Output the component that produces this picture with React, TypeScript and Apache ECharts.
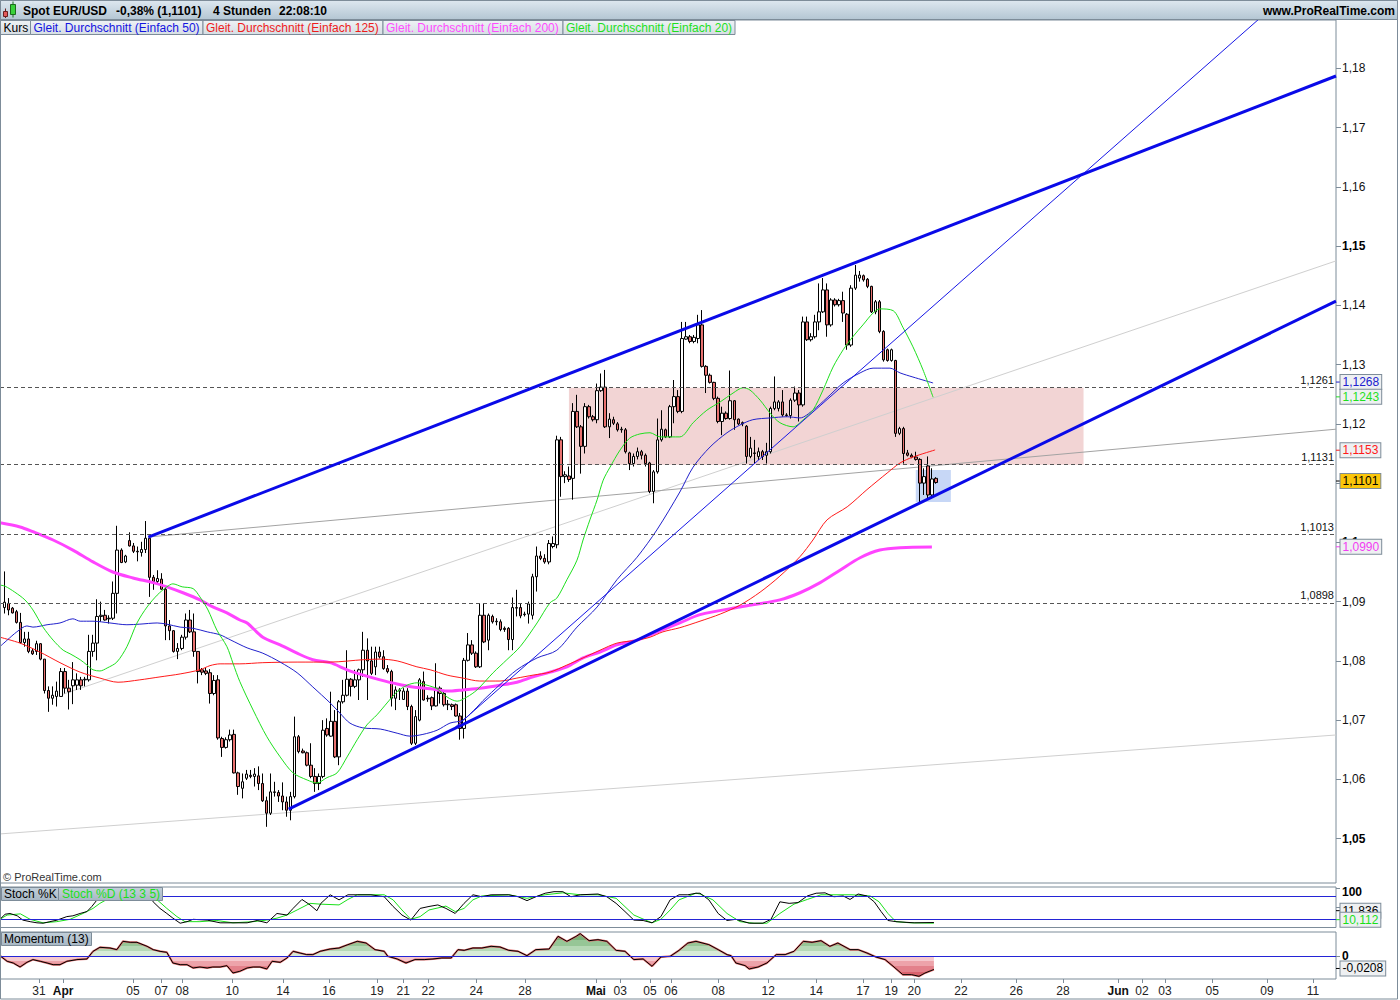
import React, { useEffect, useRef } from 'react';
import * as echarts from 'echarts';

const FONT = '"Liberation Sans", Arial, Helvetica, sans-serif';

// 4-hour candles EUR/USD: [open, close, low, high]
const candles: number[][] = [
  [1.0890, 1.0899, 1.0880, 1.0951], [1.0897, 1.0886, 1.0877, 1.0906], [1.0889, 1.0881, 1.0880, 1.0891],
  [1.0883, 1.0865, 1.0863, 1.0886], [1.0865, 1.0831, 1.0829, 1.0881], [1.0831, 1.0837, 1.0824, 1.0849],
  [1.0837, 1.0816, 1.0813, 1.0849], [1.0817, 1.0812, 1.0810, 1.0821], [1.0816, 1.0829, 1.0810, 1.0834],
  [1.0829, 1.0803, 1.0801, 1.0830], [1.0803, 1.0750, 1.0745, 1.0803], [1.0750, 1.0737, 1.0714, 1.0757],
  [1.0737, 1.0742, 1.0726, 1.0757], [1.0740, 1.0749, 1.0723, 1.0765], [1.0740, 1.0782, 1.0740, 1.0788],
  [1.0782, 1.0754, 1.0745, 1.0788], [1.0754, 1.0748, 1.0718, 1.0768], [1.0758, 1.0768, 1.0727, 1.0798],
  [1.0759, 1.0768, 1.0751, 1.0779], [1.0768, 1.0758, 1.0751, 1.0773], [1.0768, 1.0769, 1.0757, 1.0773],
  [1.0768, 1.0816, 1.0765, 1.0844], [1.0816, 1.0830, 1.0807, 1.0844], [1.0830, 1.0875, 1.0801, 1.0904],
  [1.0875, 1.0877, 1.0866, 1.0900], [1.0877, 1.0869, 1.0868, 1.0886], [1.0871, 1.0872, 1.0863, 1.0877],
  [1.0872, 1.0914, 1.0869, 1.0934], [1.0914, 1.0987, 1.0880, 1.1028], [1.0987, 1.0966, 1.0965, 1.0990],
  [1.0967, 1.0977, 1.0965, 1.0979], [1.1003, 1.0994, 1.0993, 1.1017], [1.0994, 1.0985, 1.0982, 1.0999],
  [1.0985, 1.0984, 1.0968, 1.0993], [1.0983, 1.0988, 1.0976, 1.1001], [1.0988, 1.1007, 1.0982, 1.1036],
  [1.1007, 1.0941, 1.0908, 1.1010], [1.0941, 1.0934, 1.0920, 1.0945], [1.0934, 1.0939, 1.0931, 1.0953],
  [1.0938, 1.0921, 1.0920, 1.0948], [1.0921, 1.0859, 1.0835, 1.0924], [1.0859, 1.0851, 1.0835, 1.0869],
  [1.0851, 1.0816, 1.0814, 1.0852], [1.0816, 1.0821, 1.0803, 1.0830], [1.0821, 1.0840, 1.0818, 1.0844],
  [1.0840, 1.0869, 1.0836, 1.0880], [1.0869, 1.0849, 1.0847, 1.0886], [1.0849, 1.0816, 1.0807, 1.0880],
  [1.0816, 1.0782, 1.0762, 1.0816], [1.0785, 1.0781, 1.0776, 1.0788], [1.0783, 1.0779, 1.0776, 1.0788],
  [1.0780, 1.0745, 1.0728, 1.0786], [1.0745, 1.0767, 1.0742, 1.0776], [1.0768, 1.0670, 1.0667, 1.0776],
  [1.0669, 1.0654, 1.0638, 1.0672], [1.0654, 1.0667, 1.0652, 1.0671], [1.0667, 1.0675, 1.0664, 1.0684],
  [1.0676, 1.0611, 1.0610, 1.0684], [1.0611, 1.0588, 1.0574, 1.0613], [1.0585, 1.0596, 1.0568, 1.0610],
  [1.0602, 1.0609, 1.0599, 1.0616], [1.0607, 1.0605, 1.0602, 1.0616], [1.0605, 1.0609, 1.0588, 1.0619],
  [1.0606, 1.0593, 1.0582, 1.0622], [1.0593, 1.0564, 1.0562, 1.0610], [1.0564, 1.0543, 1.0520, 1.0571],
  [1.0543, 1.0579, 1.0540, 1.0610], [1.0578, 1.0579, 1.0571, 1.0596], [1.0578, 1.0572, 1.0562, 1.0582],
  [1.0572, 1.0562, 1.0548, 1.0595], [1.0562, 1.0548, 1.0537, 1.0571], [1.0548, 1.0571, 1.0531, 1.0579],
  [1.0571, 1.0672, 1.0568, 1.0706], [1.0672, 1.0647, 1.0644, 1.0675], [1.0648, 1.0645, 1.0644, 1.0652],
  [1.0645, 1.0624, 1.0622, 1.0647], [1.0624, 1.0605, 1.0602, 1.0661], [1.0605, 1.0593, 1.0579, 1.0619],
  [1.0593, 1.0605, 1.0582, 1.0610], [1.0605, 1.0683, 1.0602, 1.0700], [1.0686, 1.0675, 1.0672, 1.0703],
  [1.0673, 1.0698, 1.0672, 1.0748], [1.0698, 1.0638, 1.0636, 1.0717], [1.0638, 1.0731, 1.0624, 1.0734],
  [1.0731, 1.0742, 1.0728, 1.0768], [1.0742, 1.0769, 1.0740, 1.0818], [1.0769, 1.0757, 1.0740, 1.0771],
  [1.0757, 1.0768, 1.0754, 1.0785], [1.0768, 1.0785, 1.0734, 1.0787], [1.0785, 1.0818, 1.0773, 1.0849],
  [1.0818, 1.0800, 1.0734, 1.0838], [1.0800, 1.0779, 1.0776, 1.0824], [1.0790, 1.0815, 1.0776, 1.0824],
  [1.0815, 1.0807, 1.0804, 1.0824], [1.0807, 1.0787, 1.0785, 1.0818], [1.0787, 1.0782, 1.0779, 1.0793],
  [1.0782, 1.0737, 1.0723, 1.0785], [1.0737, 1.0751, 1.0717, 1.0757], [1.0749, 1.0751, 1.0734, 1.0754],
  [1.0735, 1.0749, 1.0734, 1.0754], [1.0749, 1.0723, 1.0717, 1.0754], [1.0723, 1.0661, 1.0658, 1.0726],
  [1.0661, 1.0706, 1.0658, 1.0717], [1.0700, 1.0768, 1.0698, 1.0771], [1.0765, 1.0734, 1.0733, 1.0782],
  [1.0737, 1.0736, 1.0731, 1.0742], [1.0738, 1.0724, 1.0717, 1.0740], [1.0724, 1.0754, 1.0723, 1.0796],
  [1.0754, 1.0745, 1.0728, 1.0757], [1.0745, 1.0726, 1.0723, 1.0751], [1.0726, 1.0727, 1.0717, 1.0734],
  [1.0726, 1.0723, 1.0717, 1.0728], [1.0726, 1.0707, 1.0706, 1.0728], [1.0707, 1.0686, 1.0667, 1.0712],
  [1.0686, 1.0801, 1.0669, 1.0805], [1.0801, 1.0827, 1.0799, 1.0847], [1.0827, 1.0813, 1.0810, 1.0835],
  [1.0813, 1.0790, 1.0788, 1.0816], [1.0790, 1.0877, 1.0788, 1.0897], [1.0877, 1.0832, 1.0830, 1.0897],
  [1.0835, 1.0877, 1.0818, 1.0880], [1.0875, 1.0866, 1.0863, 1.0878], [1.0866, 1.0867, 1.0860, 1.0872],
  [1.0866, 1.0853, 1.0850, 1.0870], [1.0855, 1.0853, 1.0849, 1.0858], [1.0855, 1.0836, 1.0818, 1.0857],
  [1.0836, 1.0890, 1.0818, 1.0907], [1.0889, 1.0890, 1.0875, 1.0920], [1.0890, 1.0876, 1.0872, 1.0897],
  [1.0878, 1.0879, 1.0875, 1.0883], [1.0879, 1.0896, 1.0863, 1.0900], [1.0877, 1.0942, 1.0870, 1.0947],
  [1.0942, 1.0977, 1.0917, 1.0993], [1.0977, 1.0973, 1.0970, 1.0985], [1.0973, 1.0967, 1.0964, 1.0980],
  [1.0967, 1.0998, 1.0963, 1.1004], [1.0993, 1.0998, 1.0990, 1.1010], [1.0996, 1.1173, 1.0990, 1.1180],
  [1.1173, 1.1111, 1.1077, 1.1178], [1.1111, 1.1114, 1.1100, 1.1120], [1.1112, 1.1106, 1.1102, 1.1128],
  [1.1108, 1.1221, 1.1072, 1.1235], [1.1221, 1.1195, 1.1193, 1.1249], [1.1195, 1.1162, 1.1116, 1.1198],
  [1.1162, 1.1229, 1.1150, 1.1235], [1.1229, 1.1212, 1.1209, 1.1232], [1.1212, 1.1207, 1.1204, 1.1215],
  [1.1207, 1.1256, 1.1201, 1.1268], [1.1256, 1.1262, 1.1254, 1.1285], [1.1262, 1.1195, 1.1193, 1.1291],
  [1.1195, 1.1208, 1.1176, 1.1218], [1.1207, 1.1201, 1.1198, 1.1212], [1.1200, 1.1190, 1.1187, 1.1203],
  [1.1190, 1.1191, 1.1185, 1.1195], [1.1190, 1.1153, 1.1150, 1.1193], [1.1151, 1.1133, 1.1122, 1.1153],
  [1.1133, 1.1145, 1.1128, 1.1150], [1.1145, 1.1153, 1.1140, 1.1160], [1.1153, 1.1147, 1.1140, 1.1156],
  [1.1147, 1.1133, 1.1128, 1.1150], [1.1134, 1.1086, 1.1083, 1.1136], [1.1086, 1.1119, 1.1066, 1.1122],
  [1.1119, 1.1173, 1.1116, 1.1209], [1.1173, 1.1191, 1.1170, 1.1223], [1.1190, 1.1178, 1.1176, 1.1192],
  [1.1178, 1.1229, 1.1176, 1.1232], [1.1229, 1.1246, 1.1201, 1.1274], [1.1246, 1.1221, 1.1218, 1.1257],
  [1.1221, 1.1344, 1.1218, 1.1372], [1.1343, 1.1347, 1.1342, 1.1372], [1.1347, 1.1339, 1.1336, 1.1350],
  [1.1339, 1.1346, 1.1336, 1.1350], [1.1344, 1.1367, 1.1336, 1.1384], [1.1367, 1.1297, 1.1295, 1.1392],
  [1.1297, 1.1282, 1.1252, 1.1299], [1.1282, 1.1270, 1.1268, 1.1285], [1.1270, 1.1243, 1.1240, 1.1271],
  [1.1243, 1.1204, 1.1201, 1.1246], [1.1204, 1.1218, 1.1181, 1.1229], [1.1218, 1.1209, 1.1207, 1.1221],
  [1.1209, 1.1239, 1.1207, 1.1290], [1.1239, 1.1207, 1.1190, 1.1240], [1.1208, 1.1200, 1.1198, 1.1209],
  [1.1202, 1.1200, 1.1196, 1.1204], [1.1196, 1.1145, 1.1133, 1.1198], [1.1145, 1.1159, 1.1142, 1.1178],
  [1.1150, 1.1151, 1.1133, 1.1173], [1.1145, 1.1153, 1.1139, 1.1160], [1.1153, 1.1145, 1.1139, 1.1156],
  [1.1147, 1.1153, 1.1133, 1.1168], [1.1153, 1.1226, 1.1150, 1.1229], [1.1226, 1.1237, 1.1223, 1.1280],
  [1.1226, 1.1237, 1.1221, 1.1240], [1.1237, 1.1215, 1.1212, 1.1257], [1.1215, 1.1214, 1.1212, 1.1218],
  [1.1214, 1.1240, 1.1209, 1.1243], [1.1240, 1.1252, 1.1237, 1.1263], [1.1252, 1.1232, 1.1204, 1.1257],
  [1.1232, 1.1372, 1.1229, 1.1381], [1.1372, 1.1342, 1.1340, 1.1381], [1.1342, 1.1347, 1.1339, 1.1353],
  [1.1347, 1.1372, 1.1344, 1.1384], [1.1372, 1.1389, 1.1358, 1.1437], [1.1389, 1.1426, 1.1387, 1.1446],
  [1.1426, 1.1367, 1.1347, 1.1437], [1.1367, 1.1409, 1.1364, 1.1412], [1.1409, 1.1401, 1.1398, 1.1412],
  [1.1401, 1.1408, 1.1398, 1.1411], [1.1408, 1.1387, 1.1372, 1.1423], [1.1385, 1.1333, 1.1325, 1.1387],
  [1.1333, 1.1429, 1.1330, 1.1434], [1.1429, 1.1451, 1.1426, 1.1468], [1.1446, 1.1451, 1.1440, 1.1458],
  [1.1450, 1.1443, 1.1440, 1.1452], [1.1444, 1.1432, 1.1429, 1.1446], [1.1432, 1.1389, 1.1387, 1.1433],
  [1.1389, 1.1406, 1.1385, 1.1409], [1.1406, 1.1356, 1.1353, 1.1409], [1.1356, 1.1308, 1.1305, 1.1358],
  [1.1325, 1.1307, 1.1305, 1.1327], [1.1307, 1.1325, 1.1305, 1.1327], [1.1307, 1.1184, 1.1178, 1.1308],
  [1.1184, 1.1192, 1.1181, 1.1195], [1.1192, 1.1150, 1.1133, 1.1195], [1.1151, 1.1147, 1.1145, 1.1156],
  [1.1147, 1.1144, 1.1142, 1.1150], [1.1144, 1.1140, 1.1138, 1.1153], [1.1140, 1.1100, 1.1066, 1.1142],
  [1.1100, 1.1111, 1.1080, 1.1125], [1.1129, 1.1080, 1.1074, 1.1145], [1.1080, 1.1107, 1.1074, 1.1125],
  [1.1108, 1.1101, 1.1099, 1.1110],
];

// moving averages: [candle index, value]
const ma20: number[][] = [
  [-1.1, 1.0928], [0.2, 1.0926], [2.6, 1.0916], [5.1, 1.0903], [7.1, 1.0886], [9.6, 1.0857], [12.1, 1.0835],
  [14.6, 1.0818], [16.3, 1.0812], [18.8, 1.0802], [20.5, 1.0793], [22, 1.0785], [23.7, 1.0783], [25.5, 1.0788],
  [27.9, 1.0798], [30.4, 1.0824], [32.9, 1.0864], [35.4, 1.0891], [37.9, 1.0911], [40.3, 1.0925], [41.8, 1.0930],
  [44.1, 1.0925], [46.8, 1.0922], [48.5, 1.0908], [50.5, 1.0886], [52.7, 1.0852], [55.2, 1.0824], [56.7, 1.0796],
  [58.4, 1.0765], [61.7, 1.0717], [65.1, 1.0672], [68.4, 1.0638], [71.6, 1.0611], [75.1, 1.0599], [77.5, 1.0594],
  [80, 1.0603], [82.5, 1.0611], [85, 1.0638], [87.5, 1.0667], [89.9, 1.0692], [92.4, 1.0709], [94.9, 1.0729],
  [97.4, 1.0748], [99.9, 1.0759], [102.3, 1.0763], [104.8, 1.0759], [107.3, 1.0753], [109.8, 1.0739],
  [112.3, 1.0732], [114.7, 1.0739], [117.2, 1.0751], [121.2, 1.0780], [124.6, 1.0802], [127.9, 1.0824],
  [132.1, 1.0864], [135.3, 1.0898], [137, 1.0906], [139.5, 1.0937], [142, 1.0970], [143.5, 1.1004],
  [145.2, 1.1038], [147, 1.1072], [148.5, 1.1105], [150.2, 1.1127], [152.7, 1.1156], [155.1, 1.1176],
  [157.6, 1.1183], [160.1, 1.1185], [162.6, 1.1178], [167.5, 1.1178], [170.8, 1.1202], [174.2, 1.1223],
  [177.5, 1.1237], [180.7, 1.1252], [183.2, 1.1261], [184.9, 1.1257], [187.4, 1.1240], [189.9, 1.1218],
  [192.3, 1.1202], [195.6, 1.1195], [198.1, 1.1207], [200.5, 1.1223], [203, 1.1257], [205.5, 1.1296],
  [208, 1.1325], [210.4, 1.1347], [212.9, 1.1367], [215.4, 1.1387], [217.1, 1.1394], [220.4, 1.1391],
  [222.8, 1.1363], [225.3, 1.1330], [227.8, 1.1291], [230.3, 1.1245],
];
const ma50: number[][] = [
  [-1.1, 1.0824], [0.7, 1.0835], [3.1, 1.0849], [5.6, 1.0859], [7.1, 1.0857], [10.6, 1.0861], [13.8, 1.0864],
  [17, 1.0871], [18.8, 1.0867], [22, 1.0867], [26.2, 1.0864], [30.4, 1.0861], [33.6, 1.0862], [37.9, 1.0864],
  [40.3, 1.0862], [43.6, 1.0857], [46.8, 1.0855], [50.3, 1.0849], [53.5, 1.0844], [56.2, 1.0835],
  [60.2, 1.0822], [64.1, 1.0813], [68.4, 1.0798], [72.6, 1.0780], [76.5, 1.0756], [80.8, 1.0729],
  [83.2, 1.0712], [85.7, 1.0695], [88.9, 1.0687], [93.2, 1.0685], [97.4, 1.0678], [100.6, 1.0673],
  [103.8, 1.0676], [107.3, 1.0683], [110.5, 1.0695], [113.7, 1.0700], [117.2, 1.0722], [118.7, 1.0733],
  [122.9, 1.0760], [127.1, 1.0785], [132.1, 1.0805], [137, 1.0818], [142, 1.0857], [147, 1.0891],
  [151.9, 1.0937], [156.9, 1.0975], [161.8, 1.1021], [167.5, 1.1085], [170.8, 1.1127], [175, 1.1161],
  [179.2, 1.1185], [182.4, 1.1198], [185.6, 1.1207], [189.9, 1.1210], [194.1, 1.1212], [197.3, 1.1210],
  [200.5, 1.1223], [204, 1.1244], [208, 1.1269], [212.2, 1.1286], [215.4, 1.1294], [219.6, 1.1294],
  [222.1, 1.1286], [225.3, 1.1279], [230.3, 1.1269],
];
const ma125: number[][] = [
  [-1.1, 1.0840], [3.9, 1.0830], [8.8, 1.0815], [13.8, 1.0797], [18.8, 1.0781], [23.7, 1.0771], [28.2, 1.0764],
  [33.6, 1.0768], [38.6, 1.0773], [43.6, 1.0778], [48.5, 1.0785], [51, 1.0792], [53.5, 1.0795], [58.4, 1.0795],
  [64.1, 1.0797], [72.6, 1.0798], [80.8, 1.0798], [89, 1.0802], [93.2, 1.0803], [97.4, 1.0800],
  [102.3, 1.0790], [105.6, 1.0785], [109.8, 1.0776], [113.7, 1.0771], [117.9, 1.0766], [122.9, 1.0766],
  [127.1, 1.0771], [131.1, 1.0776], [135.3, 1.0781], [139.5, 1.0793], [143.5, 1.0805], [147.7, 1.0818],
  [151.9, 1.0830], [156.9, 1.0835], [160.1, 1.0840], [163.3, 1.0849], [167.5, 1.0856], [172.5, 1.0867],
  [177.5, 1.0879], [182.4, 1.0894], [187.4, 1.0916], [192.3, 1.0943], [197.3, 1.0976], [200.5, 1.1004],
  [204, 1.1038], [209, 1.1060], [213.9, 1.1089], [218.9, 1.1117], [222.1, 1.1134], [225.3, 1.1144],
  [230.8, 1.1156],
];
const ma200: number[][] = [
  [-1.1, 1.1033], [3.9, 1.1026], [7.1, 1.1018], [12.1, 1.1004], [17, 1.0987], [22, 1.0967], [26.9, 1.0950],
  [31.9, 1.0940], [36.9, 1.0932], [40.3, 1.0925], [44.3, 1.0915], [48.5, 1.0903], [51.7, 1.0891],
  [55.2, 1.0881], [58.4, 1.0869], [60.2, 1.0864], [64.1, 1.0840], [68.4, 1.0827], [72.6, 1.0813],
  [76.5, 1.0802], [80.8, 1.0797], [85, 1.0785], [89, 1.0776], [93.2, 1.0768], [97.4, 1.0761],
  [101.3, 1.0756], [105.6, 1.0753], [109.8, 1.0749], [113.7, 1.0751], [117.9, 1.0754], [122.9, 1.0759],
  [127.1, 1.0764], [131.1, 1.0773], [135.3, 1.0781], [139.5, 1.0790], [143.5, 1.0805], [147.7, 1.0815],
  [151.9, 1.0827], [156.9, 1.0835], [161.9, 1.0849], [167.5, 1.0864], [172.5, 1.0878], [182.4, 1.0891],
  [192.3, 1.0903], [197.3, 1.0915], [202.3, 1.0932], [207.2, 1.0953], [212.2, 1.0974], [217.1, 1.0987],
  [222.1, 1.0991], [230, 1.0992],
];

// trend lines: two anchor points [index, price]
const channelUpper = [[35.7, 1.1009], [330.2, 1.1787]];
const channelLower = [[70.5, 1.0550], [330.2, 1.1407]];
const thinTrend = [[111.8, 1.0688], [311.4, 1.1885]];
const grayDark = [[35.7, 1.1009], [330.2, 1.1191]];
const grayLight = [[13.8, 1.0742], [330.2, 1.1475]];
const grayBottom = [[-1.07, 1.0508], [330.2, 1.0675]];

const levels = [1.1261, 1.1131, 1.1013, 1.0898];
const resistanceZone = [[140.0, 1.1261], [267.6, 1.1131]];
const supportZone = [[226.0, 1.1122], [234.7, 1.1068]];

// Stochastic (13 3 5)
const stochK: number[][] = [
  [-1.1, 20], [0.2, 33], [1.4, 35], [3.2, 29], [4.6, 18], [6.4, 14], [8.1, 11], [9.6, 10], [11.3, 14], [13.1, 18],
  [15.5, 27], [17, 29], [18.8, 35], [20.5, 40], [21.7, 53], [23, 70], [25, 86], [27, 94], [30, 97], [33, 95],
  [35.5, 88], [36.9, 65], [38.6, 48], [40.3, 35], [41.8, 23], [43.6, 10], [45.3, 14], [46.8, 20], [50.3, 18],
  [53.5, 11], [56.7, 11], [60.2, 11], [62.7, 17], [65.1, 11], [67.6, 35], [70.1, 31], [71.6, 48], [73.8, 71],
  [75.8, 57], [77.5, 42], [78.5, 61], [80.8, 83], [83, 70], [85.2, 83], [87.5, 83], [90.9, 83], [94.2, 78],
  [96.4, 53], [98.6, 31], [100.8, 18], [103.1, 48], [105.3, 53], [107.5, 57], [109.5, 48], [111.8, 35],
  [114, 61], [116.2, 83], [118.4, 78], [120.7, 83], [125.1, 83], [127.4, 78], [129.6, 68], [131.8, 78],
  [134.1, 87], [136.3, 91], [138.5, 91], [140.5, 78], [142.8, 83], [147.2, 85], [149.4, 78], [151.7, 61],
  [153.9, 40], [156.1, 18], [158.4, 17], [160.6, 11], [162.8, 27], [165.1, 70], [167.3, 83], [169.5, 83],
  [171.5, 87], [172.5, 87], [174.7, 70], [177, 35], [179.2, 17], [181.4, 20], [184.7, 10], [188.1, 10],
  [190.1, 20], [192.3, 65], [194.6, 61], [196.8, 63], [199.1, 80], [201.3, 87], [203.5, 88], [205.7, 78],
  [208, 80], [209.7, 71], [211.7, 85], [213.9, 80], [215.7, 65], [217.4, 40], [219.1, 17], [221.1, 14],
  [225.6, 11], [230.5, 11.8],
];
const stochD: number[][] = [
  [-1.1, 20], [0.7, 31], [4, 34], [6.4, 20], [9.6, 11], [13, 14], [16.3, 20], [19.5, 35], [22, 48], [23.7, 61],
  [27, 80], [31, 92], [35, 90], [37.9, 70], [40.3, 48], [42.8, 27], [44.8, 14], [48.5, 14], [52.7, 17],
  [56.7, 11], [61.7, 14], [65, 18], [67.6, 23], [70.1, 31], [72.6, 44], [75.8, 61], [78.3, 59], [83, 57],
  [85.2, 71], [87.5, 83], [94.2, 83], [96.4, 70], [98.6, 44], [100.8, 20], [103.1, 27], [105.3, 44],
  [109.5, 54], [111.8, 40], [114, 48], [116.2, 70], [118.4, 80], [125.1, 83], [129.6, 74], [134.1, 83],
  [138.5, 88], [142.8, 83], [147.2, 83], [151.7, 74], [156.1, 31], [160.6, 11], [162.8, 20], [165.1, 44],
  [167.3, 70], [171.5, 87], [172.5, 85], [175.7, 70], [179.2, 35], [182.4, 14], [185.9, 10], [189.1, 10],
  [192.3, 35], [195.8, 59], [199.1, 71], [202.5, 83], [210.2, 83], [214.7, 80], [216.9, 65], [219.1, 35],
  [221.1, 14], [224.6, 11], [230.5, 10.1],
];

// Momentum (13)
const momentum: number[][] = [
  [-1.1, 0.0005], [0.7, -0.0082], [2.2, -0.0108], [3.9, -0.017], [5.6, -0.0098], [7.1, -0.0056], [8.9, -0.0082],
  [10.6, -0.0108], [12.1, -0.0134], [13.8, -0.0134], [15.5, -0.0082], [18, -0.0056], [20.5, -0.0046],
  [22, 0.0072], [23.7, 0.0134], [26.2, 0.0123], [27.9, 0.0098], [29.4, 0.0226], [31.2, 0.0211], [32.9, 0.0211],
  [35.4, 0.0149], [36.9, 0.0098], [38.6, 0.0072], [40.3, 0.0056], [41.8, -0.0108], [43.6, -0.0134],
  [45.3, -0.0134], [46.8, -0.0185], [48.5, -0.017], [50.3, -0.0185], [51.7, -0.017], [53.5, -0.017],
  [55.2, -0.0149], [56.7, -0.0262], [58.4, -0.0236], [60.2, -0.0185], [61.7, -0.017], [63.4, -0.017],
  [65.1, -0.02], [66.4, -0.0082], [68.4, -0.0098], [70.1, -0.0031], [71.6, 0.0072], [73.3, 0.0046],
  [75, 0.0021], [76.5, 0.0021], [78.3, 0.0072], [80.8, 0.0108], [83, 0.0123], [85.2, 0.0175], [87.5, 0.0226],
  [89.7, 0.02], [91.9, 0.0098], [94.2, 0.0072], [95.1, -0.0005], [97.4, -0.0046], [99.6, -0.0108],
  [101.8, -0.0056], [104.1, -0.0056], [106.3, -0.0046], [108.5, -0.0031], [110.8, -0.0031], [112.5, 0.0098],
  [114, 0.0087], [116.2, 0.0123], [118.4, 0.0123], [120.7, 0.0149], [122.9, 0.0139], [125.1, 0.0087],
  [127.4, 0.0072], [129.6, 0.0005], [131.8, 0.0098], [135.1, 0.0108], [137.3, 0.0303], [139.5, 0.0226],
  [141.8, 0.0303], [142.8, 0.0344], [145, 0.0236], [147.2, 0.0252], [149.4, 0.0226], [151.7, 0.0087],
  [153.9, 0.0072], [156.1, -0.0056], [158.4, -0.0046], [160.6, -0.0159], [162.8, -0.0015], [165.1, -0.0005],
  [167.3, 0.0087], [169.5, 0.02], [171.5, 0.0226], [174.7, 0.0175], [177, 0.0098], [179.2, 0.0021],
  [180.2, 0.0005], [181.4, -0.0108], [183.7, -0.0149], [184.7, -0.02], [186.9, -0.017], [189.1, -0.0108],
  [191.4, 0.0021], [193.6, 0.0021], [195.8, 0.0072], [198.1, 0.0226], [200.3, 0.0211], [202.5, 0.0236],
  [204.7, 0.0149], [206.7, 0.02], [209.7, 0.0098], [211.7, 0.0098], [213.9, 0.0046], [216.1, -0.0015],
  [218.4, -0.0056], [220.6, -0.017], [222.8, -0.0288], [225, -0.0288], [226.8, -0.0313], [228.3, -0.0262],
  [230.5, -0.0208],
];

const priceTicks = [1.05, 1.06, 1.07, 1.08, 1.09, 1.1, 1.11, 1.12, 1.13, 1.14, 1.15, 1.16, 1.17, 1.18];
// 1,11 sits fully under the current-price box in the reference, so it gets a tick but no label
const priceLabels = [1.05, 1.06, 1.07, 1.08, 1.09, 1.1, 1.12, 1.13, 1.14, 1.15, 1.16, 1.17, 1.18];
const boldPrices = [1.05, 1.1, 1.15];
const stochTicks = [100, 50];
const momTicks = [0];

const xLabelPos = [8.6, 14.6, 31.9, 38.9, 44.1, 56.5, 69.1, 80.5, 92.4, 98.9, 105.1, 117, 129.1, 146.7, 152.7,
  160.1, 165.3, 177, 189.4, 201.3, 212.9, 219.9, 225.6, 237.2, 250.9, 262.5, 276.2, 282.1, 287.8, 299.5, 313.1, 324.5];
const xLabelText = ['31', 'Apr', '05', '07', '08', '10', '14', '16', '19', '21', '22', '24', '28', 'Mai', '03',
  '05', '06', '08', '12', '14', '17', '19', '20', '22', '26', '28', 'Jun', '02', '03', '05', '09', '11'];
const monthLabels = ['Apr', 'Mai', 'Jun'];

const lastMA50 = 1.1268;
const lastMA20 = 1.1243;
const lastMA125 = 1.1153;
const lastClose = 1.1101;
const lastMA200 = 1.0990;
const lastStochK = 11.836;
const lastStochD = 10.112;
const lastMomentum = -0.0208;

const fmt = (v: number, d: number) => v.toFixed(d).replace('.', ',');
const priceLabel = (v: number) => String(parseFloat(v.toFixed(2))).replace('.', ',');

export default function App() {
  const ref = useRef<HTMLDivElement>(null);

  useEffect(() => {
    const el = ref.current;
    if (!el) return;
    const chart = echarts.init(el, null, { renderer: 'svg' });

    const X_MIN = -1.07;
    const X_MAX = 330.2;
    const BORDER = '#7d8c99';
    const C_MA20 = '#1ee01e';
    const C_MA50 = '#2121cc';
    const C_MA125 = '#ff1a1a';
    const C_MA200 = '#ff44ff';
    const C_CHANNEL = '#0a0ae8';

    const gridBase: any = {
      left: 0, right: 64, show: true, borderColor: BORDER, borderWidth: 1,
      backgroundColor: 'rgba(0,0,0,0)', containLabel: false, outerBoundsMode: 'none',
    };
    const grid = [
      { ...gridBase, top: 20, height: 863 },
      { ...gridBase, top: 887, height: 40.5 },
      { ...gridBase, top: 932, height: 47 },
    ];

    const hiddenX = (gi: number) => ({
      type: 'value', gridIndex: gi, min: X_MIN, max: X_MAX, show: false,
      axisLine: { show: false, onZero: false },
    });
    const xLabelFormatter = (v: number) => {
      let best = 0;
      let bd = Infinity;
      xLabelPos.forEach((p, j) => {
        const d = Math.abs(p - v);
        if (d < bd) { bd = d; best = j; }
      });
      const t = xLabelText[best];
      return monthLabels.includes(t) ? `{b|${t}}` : t;
    };
    const xAxis: any[] = [
      hiddenX(0),
      hiddenX(1),
      {
        type: 'value', gridIndex: 2, min: X_MIN, max: X_MAX, position: 'bottom',
        axisLine: { show: false, onZero: false }, splitLine: { show: false },
        axisTick: { show: true, customValues: xLabelPos, length: 4, lineStyle: { color: BORDER } },
        axisLabel: {
          show: true, customValues: xLabelPos, margin: 6, fontSize: 12, fontFamily: FONT, color: '#222',
          formatter: xLabelFormatter,
          rich: { b: { fontWeight: 'bold', fontSize: 12, fontFamily: FONT, color: '#111' } },
        },
      },
    ];

    const yAxis: any[] = [
      {
        type: 'value', gridIndex: 0, position: 'right', min: 1.04252, max: 1.18815,
        splitLine: { show: false }, axisLine: { show: false, onZero: false },
        axisTick: { show: true, customValues: priceTicks, length: 5, lineStyle: { color: BORDER } },
        axisLabel: {
          customValues: priceLabels, margin: 6, fontSize: 12, fontFamily: FONT, color: '#111',
          formatter: (v: number) => boldPrices.some((b) => Math.abs(b - v) < 1e-6) ? `{b|${priceLabel(v)}}` : priceLabel(v),
          rich: { b: { fontWeight: 'bold', fontSize: 12, fontFamily: FONT, color: '#000' } },
        },
      },
      {
        type: 'value', gridIndex: 1, position: 'right', min: -1, max: 103,
        splitLine: { show: false }, axisLine: { show: false, onZero: false },
        axisTick: { show: true, customValues: stochTicks, length: 4, lineStyle: { color: BORDER } },
        axisLabel: {
          customValues: stochTicks, margin: 6, fontSize: 12, fontFamily: FONT, color: '#111', padding: [8, 0, 0, 0],
          formatter: (v: number) => (v === 100 ? '{b|100}' : String(v)),
          rich: { b: { fontWeight: 'bold', fontSize: 12, fontFamily: FONT, color: '#000' } },
        },
      },
      {
        type: 'value', gridIndex: 2, position: 'right', min: -0.0355, max: 0.037,
        splitLine: { show: false }, axisLine: { show: false, onZero: false },
        axisTick: { show: true, customValues: momTicks, length: 4, lineStyle: { color: BORDER } },
        axisLabel: {
          customValues: momTicks, margin: 6, fontSize: 12, fontFamily: FONT, color: '#000',
          formatter: () => '{b|0}',
          rich: { b: { fontWeight: 'bold', fontSize: 12, fontFamily: FONT, color: '#000' } },
        },
      },
    ];

    const lineSeries = (data: number[][], color: string, width: number, z: number, smooth: any = false, xi = 0, yi = 0): any => ({
      type: 'line', xAxisIndex: xi, yAxisIndex: yi, data, z, smooth, symbol: 'none', showSymbol: false,
      silent: true, lineStyle: { color, width }, clip: true,
    });

    const series: any[] = [];
    // zones and horizontal levels
    series.push({
      type: 'line', xAxisIndex: 0, yAxisIndex: 0, data: [], z: 1, silent: true, symbol: 'none',
      markArea: {
        silent: true, label: { show: false },
        data: [
          [{ coord: resistanceZone[0], itemStyle: { color: '#f2d4d4' } }, { coord: resistanceZone[1] }],
          [{ coord: supportZone[0], itemStyle: { color: '#c7d7f6' } }, { coord: supportZone[1] }],
        ],
      },
      markLine: {
        silent: true, symbol: 'none', precision: 4,
        lineStyle: { type: [4, 3], color: '#555', width: 1 },
        label: {
          show: true, position: 'insideEndTop', distance: 2, color: '#111', fontSize: 11, fontFamily: FONT,
          formatter: (p: any) => fmt(Number(p.value), 4),
        },
        data: levels.map((v) => ({ yAxis: v })),
      },
    });
    series.push(lineSeries(grayBottom, '#cfcfcf', 1, 2));
    series.push(lineSeries(grayLight, '#cfcfcf', 1, 2));
    series.push(lineSeries(grayDark, '#a3a3a3', 1, 2));
    series.push({
      type: 'candlestick', xAxisIndex: 0, yAxisIndex: 0, z: 3, barWidth: 3, silent: true,
      data: candles.map((c, i) => [i, c[0], c[1], c[2], c[3]]),
      itemStyle: {
        color: '#ffffff', color0: '#e8716f', borderColor: '#000000', borderColor0: '#000000',
        borderColorDoji: '#000000', borderWidth: 1,
      },
    });
    series.push(lineSeries(ma200, C_MA200, 3, 4, 0.3));
    series.push(lineSeries(ma125, C_MA125, 1, 4, 0.3));
    series.push(lineSeries(ma50, C_MA50, 1, 4, 0.3));
    series.push(lineSeries(ma20, C_MA20, 1, 4, 0.3));
    series.push(lineSeries(thinTrend, '#1616e6', 1, 5));
    series.push(lineSeries(channelUpper, C_CHANNEL, 3, 5));
    series.push(lineSeries(channelLower, C_CHANNEL, 3, 5));

    // stochastic
    series.push({
      ...lineSeries([], '#000', 1, 1, false, 1, 1),
      markLine: {
        silent: true, symbol: 'none', label: { show: false }, precision: 4,
        lineStyle: { color: '#2424d6', width: 1, type: 'solid' },
        data: [{ yAxis: 80 }, { yAxis: 20 }],
      },
    });
    series.push(lineSeries(stochD, '#19e019', 1, 3, false, 1, 1));
    series.push(lineSeries(stochK, '#000000', 1, 4, false, 1, 1));

    // momentum
    const momAreaIdx = series.length;
    series.push({
      ...lineSeries(momentum, '#e06a6a', 2, 2, false, 2, 2),
      areaStyle: { opacity: 1 },
    });
    series.push({
      ...lineSeries(momentum, '#000000', 1, 4, false, 2, 2),
      markLine: {
        silent: true, symbol: 'none', label: { show: false }, precision: 4,
        lineStyle: { color: '#2424d6', width: 1, type: 'solid' },
        data: [{ yAxis: 0 }],
      },
    });

    chart.setOption({
      animation: false,
      backgroundColor: '#ffffff',
      grid,
      xAxis,
      yAxis,
      series,
      visualMap: [{
        type: 'piecewise', show: false, seriesIndex: momAreaIdx, dimension: 1,
        pieces: [
          { lt: -0.025, color: '#d9616d' },
          { gte: -0.025, lt: -0.016, color: '#e3818b' },
          { gte: -0.016, lt: -0.008, color: '#eda3aa' },
          { gte: -0.008, lt: 0, color: '#f6c9ce' },
          { gte: 0, lt: 0.008, color: '#d7ebd7' },
          { gte: 0.008, lt: 0.016, color: '#b5d8b5' },
          { gte: 0.016, lt: 0.025, color: '#96c696' },
          { gte: 0.025, color: '#78b278' },
        ],
      }],
    });

    const py = (idx: number, v: number) => chart.convertToPixel({ yAxisIndex: idx } as any, v) as unknown as number;

    const txt = (x: number, y: number, text: string, color: string, font: string, align = 'left', z = 110): any => ({
      type: 'text', x, y, z, silent: true,
      style: { text, fill: color, font, align, textAlign: align, verticalAlign: 'middle', textVerticalAlign: 'middle' },
    });
    const rect = (x: number, y: number, w: number, h: number, fill: any, stroke: string | null, z = 105): any => ({
      type: 'rect', z, silent: true, shape: { x, y, width: w, height: h },
      style: { fill, stroke: stroke || undefined, lineWidth: 1 },
    });
    const valueBox = (y: number, text: string, color: string, bg: string, z = 120): any[] => ([
      { type: 'line', z, silent: true, shape: { x1: 1336, y1: y, x2: 1340, y2: y }, style: { stroke: color, lineWidth: 1 } },
      {
        type: 'text', z: z + 1, x: 1340.5, y, silent: true,
        style: {
          text, fill: color, font: `12px ${FONT}`, backgroundColor: bg, borderColor: BORDER, borderWidth: 1,
          padding: [1, 2, 0, 2], lineHeight: 13, align: 'left', textAlign: 'left',
          verticalAlign: 'middle', textVerticalAlign: 'middle',
        },
      },
    ]);

    const titleGrad = new echarts.graphic.LinearGradient(0, 0, 0, 1, [
      { offset: 0, color: '#dde7ef' }, { offset: 1, color: '#b4c6d3' },
    ]);
    const legendGrad = new echarts.graphic.LinearGradient(0, 0, 0, 1, [
      { offset: 0, color: '#eef2f5' }, { offset: 1, color: '#d6dee4' },
    ]);
    const panelLegendGrad = new echarts.graphic.LinearGradient(0, 0, 0, 1, [
      { offset: 0, color: '#c3d0da' }, { offset: 1, color: '#a7b7c4' },
    ]);

    const BOLD12 = `bold 12px ${FONT}`;
    const N12 = `12px ${FONT}`;

    const legendItems: [number, number, string, string][] = [
      [0.5, 30, 'Kurs', '#000000'],
      [30.5, 172.5, 'Gleit. Durchschnitt (Einfach 50)', '#1414e0'],
      [203, 180, 'Gleit. Durchschnitt (Einfach 125)', '#ee1c1c'],
      [383, 180, 'Gleit. Durchschnitt (Einfach 200)', '#ff4cff'],
      [563, 172, 'Gleit. Durchschnitt (Einfach 20)', '#1ee01e'],
    ];

    const elements: any[] = [
      rect(0.5, 0.5, 1397, 19, titleGrad, BORDER),
      { type: 'line', z: 106, silent: true, shape: { x1: 5.5, y1: 8.5, x2: 5.5, y2: 18 }, style: { stroke: '#6b2020', lineWidth: 1 } },
      rect(3.5, 11.5, 4, 5, '#e25a5a', '#6b2020', 107),
      { type: 'line', z: 106, silent: true, shape: { x1: 13, y1: 1.5, x2: 13, y2: 17.5 }, style: { stroke: '#1d6b1d', lineWidth: 1 } },
      rect(10.5, 4.5, 5, 10, '#3ad23a', '#1d6b1d', 107),
      txt(23, 10.5, 'Spot EUR/USD', '#000', BOLD12),
      txt(116, 10.5, '-0,38% (1,1101)', '#000', BOLD12),
      txt(213, 10.5, '4 Stunden', '#000', BOLD12),
      txt(279, 10.5, '22:08:10', '#000', BOLD12),
      txt(1395, 10.5, 'www.ProRealTime.com', '#000', BOLD12, 'right'),
      ...legendItems.flatMap(([x, w, t, c]) => [rect(x, 20.5, w, 14, legendGrad, BORDER), txt(x + 3, 27.8, t, c, N12)]),
      txt(3, 877, '© ProRealTime.com', '#333', `11px ${FONT}`),
      rect(1.5, 887.5, 57, 13, panelLegendGrad, BORDER),
      txt(4, 894.3, 'Stoch %K', '#000', N12),
      rect(58.5, 887.5, 104, 13, panelLegendGrad, BORDER),
      txt(62, 894.3, 'Stoch %D (13 3 5)', '#19e019', N12),
      rect(1.5, 932.5, 90, 13, panelLegendGrad, BORDER),
      txt(4, 939.3, 'Momentum (13)', '#000', N12),
      { type: 'rect', z: 130, silent: true, shape: { x: 0.5, y: 0.5, width: 1397, height: 998.5 }, style: { fill: 'none', stroke: BORDER, lineWidth: 1 } },
    ];

    // current value boxes on the right scales
    elements.push(...valueBox(py(0, lastMA50) - 1.5, fmt(lastMA50, 4), '#2020d0', '#eef0f2'));
    elements.push(...valueBox(py(0, lastMA20) - 1.5, fmt(lastMA20, 4), C_MA20, '#eef0f2'));
    elements.push(...valueBox(py(0, lastMA125) - 1.5, fmt(lastMA125, 4), C_MA125, '#eef0f2'));
    elements.push(...valueBox(py(0, lastClose) - 1.5, fmt(lastClose, 4), '#000000', '#fbc60a'));
    elements.push(...valueBox(py(0, lastMA200) - 1.5, fmt(lastMA200, 4), '#f23ef2', '#eef0f2'));
    const dY = py(1, lastStochD) - 3.5;
    elements.push(...valueBox(dY - 9, fmt(lastStochK, 3), '#000000', '#eef0f2', 120));
    elements.push(...valueBox(dY, fmt(lastStochD, 3), '#19e019', '#eef0f2', 124));
    elements.push(...valueBox(py(2, lastMomentum) - 1, fmt(lastMomentum, 4), '#000000', '#eef0f2'));

    chart.setOption({ graphic: { elements } });

    return () => chart.dispose();
  }, []);

  return (
    <div
      ref={ref}
      style={{ position: 'fixed', left: 0, top: 0, width: 1400, height: 1000, background: '#ffffff' }}
    />
  );
}
